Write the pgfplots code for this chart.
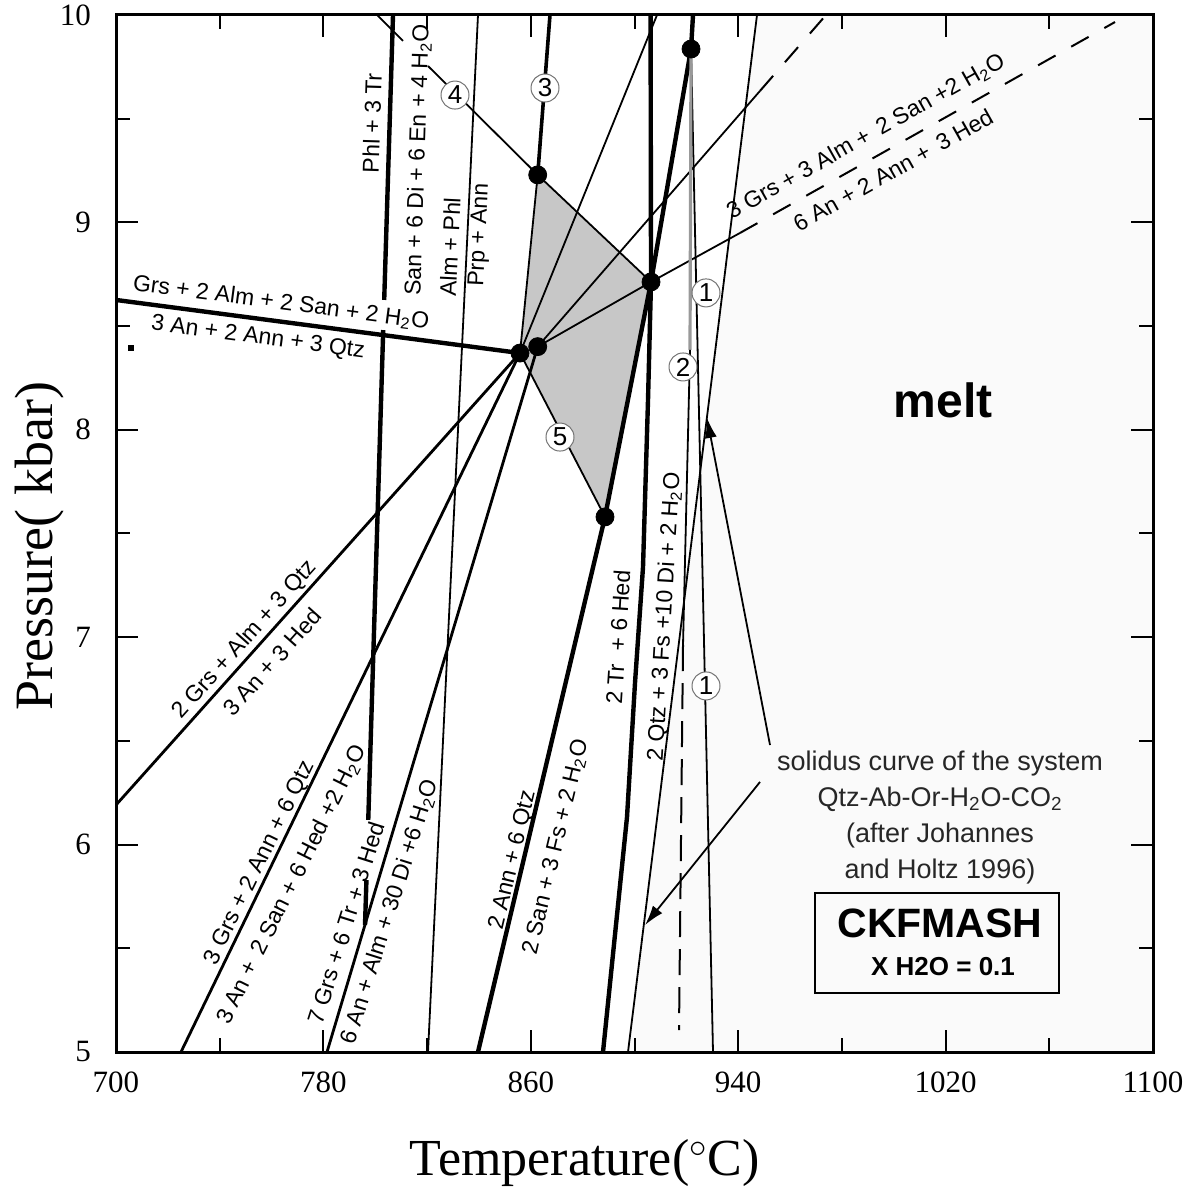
\documentclass[border=0pt]{standalone}
\usepackage{pgfplots}
\pgfplotsset{compat=1.18}
\usepackage{fontspec}
\setmainfont{Liberation Sans}
\newfontfamily\tnr{Liberation Serif}
\usetikzlibrary{arrows.meta}

% font sizes used in the diagram
\newcommand{\lab}{\fontsize{11.5}{13}\selectfont}
\newcommand{\ticks}{\fontsize{15.5}{16}\tnr}
\newcommand{\axlab}{\fontsize{26}{28}\tnr}
\newcommand{\aylab}{\fontsize{27}{29}\tnr}
\newcommand{\Hto}{H\textsubscript{2}O}

\begin{document}
\begin{tikzpicture}[
  thickL/.style={line width=2.2pt, black},
  medL/.style={line width=1.4pt, black},
  thinL/.style={line width=0.9pt, black},
  dashL/.style={line width=1pt, black, dash pattern=on 10pt off 9pt},
  circ/.style={circle, draw=black!55, line width=0.5pt, fill=white, inner sep=0pt,
               minimum size=14pt, font=\fontsize{13}{13}\selectfont},
]
\begin{axis}[
  at={(0pt,0pt)}, anchor=south west,
  scale only axis, width=518.5pt, height=518.5pt,
  xmin=700, xmax=1100, ymin=5, ymax=10,
  axis on top,
  xtick={700,780,860,940,1020,1100},
  minor xtick={740,820,900,980,1060},
  ytick={5,6,7,8,9,10},
  minor ytick={5.5,6.5,7.5,8.5,9.5},
  tick align=inside,
  major tick length=11pt, minor tick length=7pt,
  every tick/.append style={line width=1pt, black},
  axis line style={line width=1.5pt},
  tick label style={font=\ticks},
  /pgf/number format/assume math mode=true,
  /pgf/number format/1000 sep={},
  xticklabel style={yshift=-6.5pt},
  yticklabel style={xshift=-9pt},
  xlabel={Temperature($^{\circ}$C)},
  ylabel={Pressure( kbar)},
  xlabel style={font=\axlab, at={(axis description cs:0.452,-0.107)}, anchor=center},
  ylabel style={font=\aylab, at={(axis description cs:-0.0733,0.488)}, anchor=center},
]

% melt field and shaded field
\addplot[draw=none, fill=black!2] coordinates {(947.25,10) (1100,10) (1100,5) (897.49,5)} -- cycle;
\addplot[draw=none, fill=black!22] coordinates {(862.66,9.229) (906.37,8.713) (888.62,7.580) (855.83,8.370)} -- cycle;

% Grs + 2 Alm + 2 San + 2 H2O = 3 An + 2 Ann + 3 Qtz
\addplot[thickL] coordinates {(700,8.626) (855.83,8.370)};
% 2 Grs + Alm + 3 Qtz = 3 An + 3 Hed
\addplot[medL] coordinates {(700,6.191) (855.83,8.370)};
% 3 Grs + 2 Ann + 6 Qtz = 3 An + 2 San + 6 Hed + 2 H2O
\addplot[medL] coordinates {(725.07,5) (855.83,8.370)};
% 7 Grs + 6 Tr + 3 Hed = 6 An + Alm + 30 Di + 6 H2O
\addplot[medL] coordinates {(781.39,5) (862.66,8.401)};
% Phl + 3 Tr = San + 6 Di + 6 En + 4 H2O
\addplot[thickL] coordinates {(806.85,10) (803.45,8.626)};
\addplot[thickL] coordinates {(803.07,8.481) (797.3,6.119)};
\addplot[thickL] coordinates {(796.6,5.829) (796.05,5.612)};
% Alm + Phl = Prp + Ann
\addplot[thinL] coordinates {(839.63,10) (820.35,5)};
% reaction 3
\addplot[line width=1.8pt] coordinates {(867.4,10) (862.66,9.229)};
\addplot[thinL] coordinates {(862.66,9.229) (855.83,8.370)};
% reaction 4
\addplot[thinL] coordinates {(800.68,10) (810.7,9.875)};
\addplot[thinL] coordinates {(820.35,9.754) (862.66,9.229) (906.37,8.713)};
% reaction 5
\addplot[thinL] coordinates {(855.83,8.370) (888.62,7.580)};
% 2 Ann + 6 Qtz = 2 San + 3 Fs + 2 H2O
\addplot[thickL] coordinates {(839.63,5) (888.62,7.580) (906.37,8.713) (921.8,9.836) (922.57,10)};
% 2 Tr + 6 Hed = 2 Qtz + 3 Fs + 10 Di + 2 H2O
\addplot[thickL] coordinates {(906.2,10) (906.37,8.713) (905.21,8.144) (903.28,7.338) (900.19,6.779) (897.11,6.133) (887.85,5)};
% further univariant lines from the invariant points
\addplot[thinL] coordinates {(855.83,8.370) (908.68,10)};
\addplot[thinL] coordinates {(862.66,8.401) (948.41,9.634)};
\addplot[dashL] coordinates {(948.41,9.634) (973.87,10)};
\addplot[thinL] coordinates {(862.66,8.401) (906.37,8.713) (940.69,8.949)};
\addplot[dashL] coordinates {(940.69,8.949) (1085.34,9.966)};
% reaction 1
\addplot[thinL] coordinates {(921.8,9.836) (930.28,5)};
% reaction 2
\addplot[line width=1.6pt, black!40] coordinates {(921.8,9.836) (921.41,8.385)};
\addplot[thinL] coordinates {(921.41,8.385) (918.71,6.962)};
\addplot[line width=1pt, dash pattern=on 13pt off 6pt] coordinates {(918.71,6.962) (917.17,5.106)};
% granite solidus
\addplot[thinL] coordinates {(947.25,10) (897.49,5)};
% arrows to the solidus
\addplot[thinL, -{Latex[length=10pt,width=6pt]}] coordinates {(952.27,6.480) (927.97,8.057)};
\addplot[thinL, -{Latex[length=10pt,width=6pt]}] coordinates {(948.41,6.302) (904.05,5.612)};

% invariant points
\addplot[only marks, mark=*, mark size=4.5pt] coordinates {
  (921.8,9.836) (906.37,8.713) (862.66,9.229) (855.83,8.370) (862.66,8.401) (888.62,7.580)};
\addplot[only marks, mark=square*, mark size=1.2pt] coordinates {(705.79,8.394)};

% reaction labels
\node[font=\lab, rotate=-7.5] at (763.65,8.611) {Grs + 2 Alm + 2 San + 2 \Hto};
\node[font=\lab, rotate=-7.5] at (754.77,8.443) {3 An + 2 Ann + 3 Qtz};
\node[font=\lab, rotate=48.2] at (749.76,6.987) {2 Grs + Alm + 3 Qtz};
\node[font=\lab, rotate=48.2] at (760.17,6.880) {3 An + 3 Hed};
\node[font=\lab, rotate=64] at (755.54,5.911) {3 Grs + 2 Ann + 6 Qtz};
\node[font=\lab, rotate=63.5] at (767.89,5.805) {3 An + \,2 San + 6 Hed +2 \Hto};
\node[font=\lab, rotate=72.5] at (788.72,5.622) {7 Grs + 6 Tr + 3 Hed};
\node[font=\lab, rotate=72.5] at (805.69,5.675) {6 An + Alm + 30 Di +6 \Hto};
\node[font=\lab, rotate=88.2] at (798.75,9.479) {Phl + 3 Tr};
\node[font=\lab, rotate=88.2] at (816.49,9.301) {San + 6 Di + 6 En + 4 \Hto};
\node[font=\lab, rotate=87.2] at (828.83,8.881) {Alm + Phl};
\node[font=\lab, rotate=87.2] at (840.41,8.939) {Prp + Ann};
\node[font=\lab, rotate=76.6] at (853.13,5.926) {2 Ann + 6 Qtz};
\node[font=\lab, rotate=76.6] at (869.72,5.988) {2 San + 3 Fs + 2 \Hto};
\node[font=\lab, rotate=86.3] at (893.64,7.001) {2 Tr \ + 6 Hed};
\node[font=\lab, rotate=86.6] at (911.76,7.097) {2 Qtz + 3 Fs +10 Di + 2 \Hto};
\node[font=\lab, rotate=29.4] at (989.30,9.412) {3 Grs + 3 Alm + \,2 San +2 \Hto};
\node[font=\lab, rotate=29.4] at (999.71,9.253) {6 An + 2 Ann + \,3 Hed};

% numbered reactions
\node[circ] at (927.58,8.660) {1};
\node[circ] at (918.71,8.303) {2};
\node[circ] at (865.48,9.648) {3};
\node[circ] at (830.76,9.614) {4};
\node[circ] at (871.26,7.965) {5};
\node[circ] at (927.58,6.765) {1};

% field and legend text
\node[font=\fontsize{24}{24}\selectfont\bfseries] at (1019.0,8.144) {melt};
\node[font=\fontsize{13.5}{18}\selectfont, align=center, text=black!85] at (1017.84,6.133)
  {solidus curve of the system\\Qtz-Ab-Or-H\textsubscript{2}O-CO\textsubscript{2}\\(after Johannes\\and Holtz 1996)};
\node[draw, line width=1.2pt, minimum width=122pt, minimum height=50pt, inner sep=0pt] at (1016.68,5.526) {};
\node[font=\fontsize{20.5}{21}\selectfont\bfseries] at (1017.8,5.622) {CKFMASH};
\node[font=\fontsize{13}{14}\selectfont\bfseries] at (1019.0,5.410) {X H2O = 0.1};
\end{axis}
\pgfresetboundingbox
\path[use as bounding box] (-58pt,-75pt) rectangle (533.5pt,526pt);
\end{tikzpicture}
\end{document}
